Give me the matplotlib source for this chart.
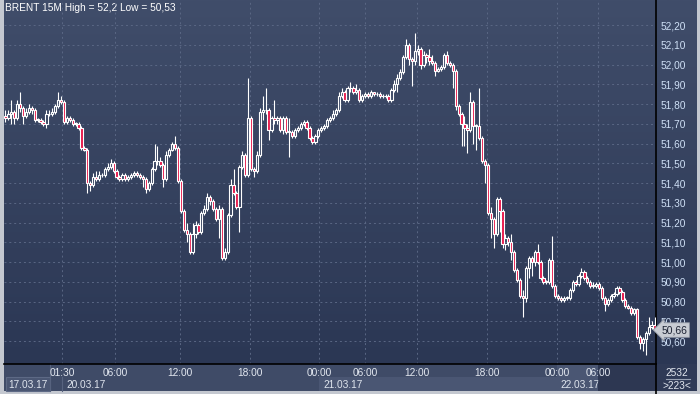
import numpy as np
import matplotlib.pyplot as plt
from matplotlib.patches import Rectangle

plt.rcParams['font.family'] = ['Liberation Sans', 'DejaVu Sans']

# 15-minute BRENT candles (price)
closes = [
    51.73, 51.75, 51.76, 51.73, 51.80, 51.78, 51.74, 51.76, 51.78, 51.77,
    51.72, 51.72, 51.71, 51.70, 51.75, 51.75, 51.76, 51.79, 51.82, 51.81,
    51.71, 51.73, 51.72, 51.70, 51.70, 51.68, 51.58, 51.57, 51.40, 51.39,
    51.43, 51.42, 51.44, 51.44, 51.47, 51.48, 51.50, 51.46, 51.43, 51.42,
    51.44, 51.42, 51.43, 51.44, 51.45, 51.44, 51.43, 51.42, 51.37, 51.40,
    51.47, 51.51, 51.51, 51.49, 51.42, 51.54, 51.57, 51.60, 51.58, 51.41,
    51.26, 51.16, 51.14, 51.05, 51.14, 51.19, 51.15, 51.25, 51.27, 51.33,
    51.31, 51.27, 51.22, 51.27, 51.02, 51.05, 51.24, 51.39, 51.35, 51.28,
    51.48, 51.54, 51.44, 51.73, 51.47, 51.46, 51.54, 51.76, 51.77, 51.77,
    51.67, 51.73, 51.72, 51.73, 51.67, 51.73, 51.66, 51.66, 51.64, 51.67,
    51.68, 51.70, 51.71, 51.68, 51.63, 51.61, 51.64, 51.67, 51.68, 51.69,
    51.72, 51.73, 51.75, 51.77, 51.84, 51.86, 51.82, 51.88, 51.88, 51.86,
    51.87, 51.82, 51.84, 51.85, 51.84, 51.86, 51.85, 51.85, 51.84, 51.84,
    51.84, 51.82, 51.87, 51.90, 51.93, 51.96, 52.04, 52.10, 52.03, 52.02,
    52.07, 52.08, 52.00, 52.05, 52.04, 52.02, 52.01, 51.97, 51.98, 51.99,
    52.05, 52.01, 52.00, 51.97, 51.79, 51.75, 51.70, 51.68, 51.67, 51.81,
    51.69, 51.69, 51.63, 51.51, 51.49, 51.25, 51.22, 51.14, 51.32, 51.26,
    51.09, 51.12, 51.10, 51.05, 50.96, 50.91, 50.83, 50.82, 50.97, 51.02,
    51.00, 51.05, 51.00, 50.92, 50.90, 50.90, 51.01, 50.88, 50.83, 50.82,
    50.81, 50.82, 50.82, 50.86, 50.90, 50.89, 50.93, 50.95, 50.92, 50.90,
    50.88, 50.88, 50.89, 50.87, 50.82, 50.79, 50.81, 50.83, 50.84, 50.87,
    50.85, 50.81, 50.78, 50.77, 50.74, 50.76, 50.62, 50.59, 50.61, 50.64,
    50.67, 50.68, 50.66,
]
highs = [
    51.77, 51.77, 51.82, 51.77, 51.82, 51.86, 51.79, 51.78, 51.80, 51.79,
    51.78, 51.73, 51.73, 51.72, 51.77, 51.77, 51.78, 51.80, 51.86, 51.84,
    51.82, 51.74, 51.74, 51.73, 51.71, 51.71, 51.69, 51.59, 51.58, 51.41,
    51.45, 51.46, 51.46, 51.45, 51.48, 51.50, 51.52, 51.51, 51.47, 51.44,
    51.45, 51.45, 51.44, 51.45, 51.46, 51.46, 51.45, 51.44, 51.43, 51.41,
    51.48, 51.60, 51.59, 51.53, 51.50, 51.56, 51.58, 51.61, 51.64, 51.59,
    51.42, 51.27, 51.20, 51.15, 51.20, 51.21, 51.20, 51.26, 51.29, 51.35,
    51.34, 51.32, 51.28, 51.29, 51.28, 51.07, 51.25, 51.42, 51.47, 51.36,
    51.49, 51.56, 51.55, 51.93, 51.74, 51.48, 51.56, 51.78, 51.84, 51.88,
    51.78, 51.74, 51.82, 51.74, 51.74, 51.74, 51.74, 51.73, 51.67, 51.68,
    51.69, 51.71, 51.72, 51.72, 51.69, 51.64, 51.65, 51.68, 51.69, 51.70,
    51.73, 51.74, 51.77, 51.78, 51.86, 51.88, 51.87, 51.89, 51.91, 51.89,
    51.90, 51.88, 51.85, 51.86, 51.86, 51.87, 51.86, 51.86, 51.86, 51.85,
    51.85, 51.85, 51.88, 51.92, 51.95, 51.98, 52.05, 52.13, 52.11, 52.04,
    52.16, 52.10, 52.09, 52.07, 52.06, 52.08, 52.05, 52.02, 51.99, 52.00,
    52.06, 52.07, 52.02, 52.01, 51.98, 51.80, 51.76, 51.74, 51.70, 51.86,
    51.82, 51.70, 51.88, 51.64, 51.52, 51.50, 51.28, 51.23, 51.33, 51.33,
    51.27, 51.14, 51.13, 51.14, 51.06, 50.97, 50.92, 50.86, 50.98, 51.03,
    51.03, 51.06, 51.09, 51.01, 50.93, 50.91, 51.02, 51.13, 50.89, 50.84,
    50.83, 50.83, 50.83, 50.87, 50.91, 50.91, 50.94, 50.97, 50.96, 50.93,
    50.91, 50.90, 50.90, 50.90, 50.88, 50.83, 50.82, 50.84, 50.85, 50.88,
    50.88, 50.86, 50.82, 50.79, 50.78, 50.77, 50.77, 50.63, 50.62, 50.65,
    50.72, 50.70, 50.72,
]
lows = [
    51.71, 51.72, 51.70, 51.70, 51.72, 51.76, 51.70, 51.73, 51.75, 51.75,
    51.71, 51.71, 51.70, 51.69, 51.68, 51.74, 51.74, 51.75, 51.78, 51.80,
    51.70, 51.70, 51.71, 51.69, 51.69, 51.67, 51.57, 51.56, 51.35, 51.36,
    51.38, 51.41, 51.41, 51.43, 51.43, 51.46, 51.47, 51.45, 51.42, 51.41,
    51.41, 51.41, 51.41, 51.42, 51.43, 51.43, 51.42, 51.38, 51.35, 51.36,
    51.39, 51.46, 51.49, 51.48, 51.38, 51.41, 51.53, 51.56, 51.57, 51.40,
    51.25, 51.15, 51.10, 51.04, 51.04, 51.12, 51.14, 51.14, 51.24, 51.26,
    51.29, 51.26, 51.21, 51.12, 51.01, 51.01, 51.04, 51.23, 51.34, 51.27,
    51.15, 51.47, 51.43, 51.43, 51.46, 51.43, 51.45, 51.53, 51.72, 51.75,
    51.62, 51.66, 51.70, 51.70, 51.66, 51.65, 51.65, 51.53, 51.63, 51.63,
    51.66, 51.67, 51.69, 51.67, 51.62, 51.60, 51.60, 51.63, 51.66, 51.67,
    51.68, 51.71, 51.72, 51.74, 51.76, 51.83, 51.81, 51.81, 51.86, 51.85,
    51.85, 51.81, 51.81, 51.83, 51.83, 51.83, 51.84, 51.84, 51.83, 51.83,
    51.83, 51.81, 51.81, 51.86, 51.86, 51.92, 51.95, 52.03, 52.00, 51.89,
    52.00, 52.05, 51.98, 51.99, 52.01, 52.00, 52.00, 51.94, 51.96, 51.97,
    51.98, 52.00, 51.99, 51.88, 51.77, 51.74, 51.59, 51.59, 51.55, 51.66,
    51.60, 51.57, 51.62, 51.50, 51.40, 51.24, 51.12, 51.07, 51.13, 51.15,
    51.07, 51.06, 51.08, 51.01, 50.95, 50.90, 50.82, 50.72, 50.80, 50.92,
    50.93, 50.98, 50.99, 50.91, 50.89, 50.89, 50.89, 50.87, 50.82, 50.81,
    50.80, 50.80, 50.81, 50.81, 50.85, 50.88, 50.88, 50.92, 50.91, 50.89,
    50.87, 50.87, 50.87, 50.86, 50.81, 50.75, 50.78, 50.80, 50.82, 50.83,
    50.84, 50.80, 50.77, 50.76, 50.73, 50.73, 50.61, 50.56, 50.55, 50.53,
    50.63, 50.66, 50.65,
]
opens = [51.74] + closes[:-1]

price_ticks = [50.60, 50.70, 50.80, 50.90, 51.00, 51.10, 51.20, 51.30, 51.40,
               51.50, 51.60, 51.70, 51.80, 51.90, 52.00, 52.10, 52.20]
time_ticks = [19.3, 37.5, 59.7, 83.6, 107.2, 123.0, 140.7, 164.7, 188.6, 202.6]
time_labels = ["01:30", "06:00", "12:00", "18:00", "00:00",
               "06:00", "12:00", "18:00", "00:00", "06:00"]
date_labels = ["17.03.17", "20.03.17", "21.03.17", "22.03.17"]
last_price = 50.66
title = "BRENT 15M High = 52,2 Low = 50,53"

W, H = 700, 394
fig = plt.figure(figsize=(W / 100, H / 100), dpi=100, facecolor="#c4c8d0")

# background layer in pixel coordinates
bg = fig.add_axes([0, 0, 1, 1])
bg.set_xlim(0, W)
bg.set_ylim(H, 0)
bg.axis("off")
grad = np.linspace(0, 1, 256).reshape(-1, 1)
top_c = np.array([0x40, 0x4d, 0x6a]) / 255
bot_c = np.array([0x2b, 0x37, 0x54]) / 255
img = top_c + (bot_c - top_c) * grad[..., None]
bg.imshow(img, extent=(4, 697, 364, 0), aspect="auto", zorder=0)

# bottom time strip
bg.add_patch(Rectangle((4, 364), 652, 27, fc="#3f4b67", ec="none", zorder=1))
bg.add_patch(Rectangle((62, 377), 257, 14, fc="#3f4b67", ec="none", zorder=1))
bg.add_patch(Rectangle((319, 377), 238, 14, fc="#4a5673", ec="none", zorder=1))
bg.add_patch(Rectangle((6, 377), 44, 14, fc="#4a5673", ec="#5d6985", lw=0.8, zorder=1))
bg.add_patch(Rectangle((557, 364), 41, 27, fc="#4a5673", ec="none", zorder=1))
bg.plot([50, 50], [364, 391], color="#57637f", lw=0.8, zorder=2)
bg.plot([62, 62], [377, 391], color="#57637f", lw=0.8, zorder=2)
bg.text(28, 384.5, date_labels[0], color="#dfe5ee", fontsize=7.3, ha="center", va="center", zorder=3)
bg.text(66, 384.5, date_labels[1], color="#dfe5ee", fontsize=7.3, ha="left", va="center", zorder=3)
bg.text(323, 384.5, date_labels[2], color="#dfe5ee", fontsize=7.3, ha="left", va="center", zorder=3)
bg.text(560, 384.5, date_labels[3], color="#dfe5ee", fontsize=7.3, ha="left", va="center", zorder=3)

# bottom-right counter box
bg.add_patch(Rectangle((656, 364), 41, 27, fc="#2f3a56", ec="none", zorder=1))
bg.text(677, 372.5, "2532", color="#e3e8f0", fontsize=7.3, ha="center", va="center", zorder=3)
bg.plot([666, 690], [378.5, 378.5], color="#9aa3b4", lw=0.8, zorder=3)
bg.text(677, 386, ">223<", color="#e3e8f0", fontsize=7.3, ha="center", va="center", zorder=3)

bg.text(5, 8, title, color="white", fontsize=7.3, ha="left", va="center", zorder=6)

# main price axes
ax = fig.add_axes([4 / W, 30 / H, 652 / W, 364 / H], facecolor="none", zorder=2)
ax.set_xlim(-0.5, 222.5)
ax.set_ylim(50.484, 52.327)

ax.grid(True, color="#5a6784", lw=0.7, linestyle=(0, (2, 3)))
ax.set_axisbelow(True)

body_w = 0.78
for i, (o, h, l, c) in enumerate(zip(opens, highs, lows, closes)):
    lo_b, hi_b = min(o, c), max(o, c)
    ax.plot([i, i], [l, lo_b], color="white", lw=0.8, solid_capstyle="butt", zorder=3)
    ax.plot([i, i], [hi_b, h], color="white", lw=0.8, solid_capstyle="butt", zorder=3)
    fc = "#e8174a" if c < o else "none"
    ax.add_patch(Rectangle((i - body_w / 2, lo_b), body_w, max(hi_b - lo_b, 0.002),
                           fc=fc, ec="white", lw=0.8, zorder=4))

ax.yaxis.tick_right()
ax.set_yticks(price_ticks)
ax.set_yticklabels([f"{v:.2f}".replace(".", ",") for v in price_ticks])
ax.tick_params(axis="y", length=0, pad=3, labelsize=7.3, labelcolor="#cfe0f6")
ax.set_xticks(time_ticks)
ax.set_xticklabels(time_labels)
ax.tick_params(axis="x", length=0, pad=3, labelsize=7.3, labelcolor="#e3e8f0")
for s in ["top", "left"]:
    ax.spines[s].set_visible(False)
ax.spines["right"].set_color("black")
ax.spines["right"].set_linewidth(1.2)
ax.spines["bottom"].set_color("black")
ax.spines["bottom"].set_linewidth(1.2)

# shaded future region over the last time label
bg.add_patch(Rectangle((598, 364), 58, 27, fc="#27314c", ec="none", alpha=0.75, zorder=5))
bg.plot([656, 656], [364, 394], color="black", lw=1.2, zorder=6)

# last price marker (covers the lower half of the 50,70 label as in the original)
ax.text(1.008, last_price - 0.004, "50,66", transform=ax.get_yaxis_transform(), color="#1c2233",
        fontsize=7.5, ha="left", va="center", zorder=6, clip_on=False,
        bbox=dict(boxstyle="larrow,pad=0.22", fc="#c8ccd3", ec="#8e95a2", lw=0.6))

fig.savefig("out.png", dpi=100, facecolor=fig.get_facecolor())
